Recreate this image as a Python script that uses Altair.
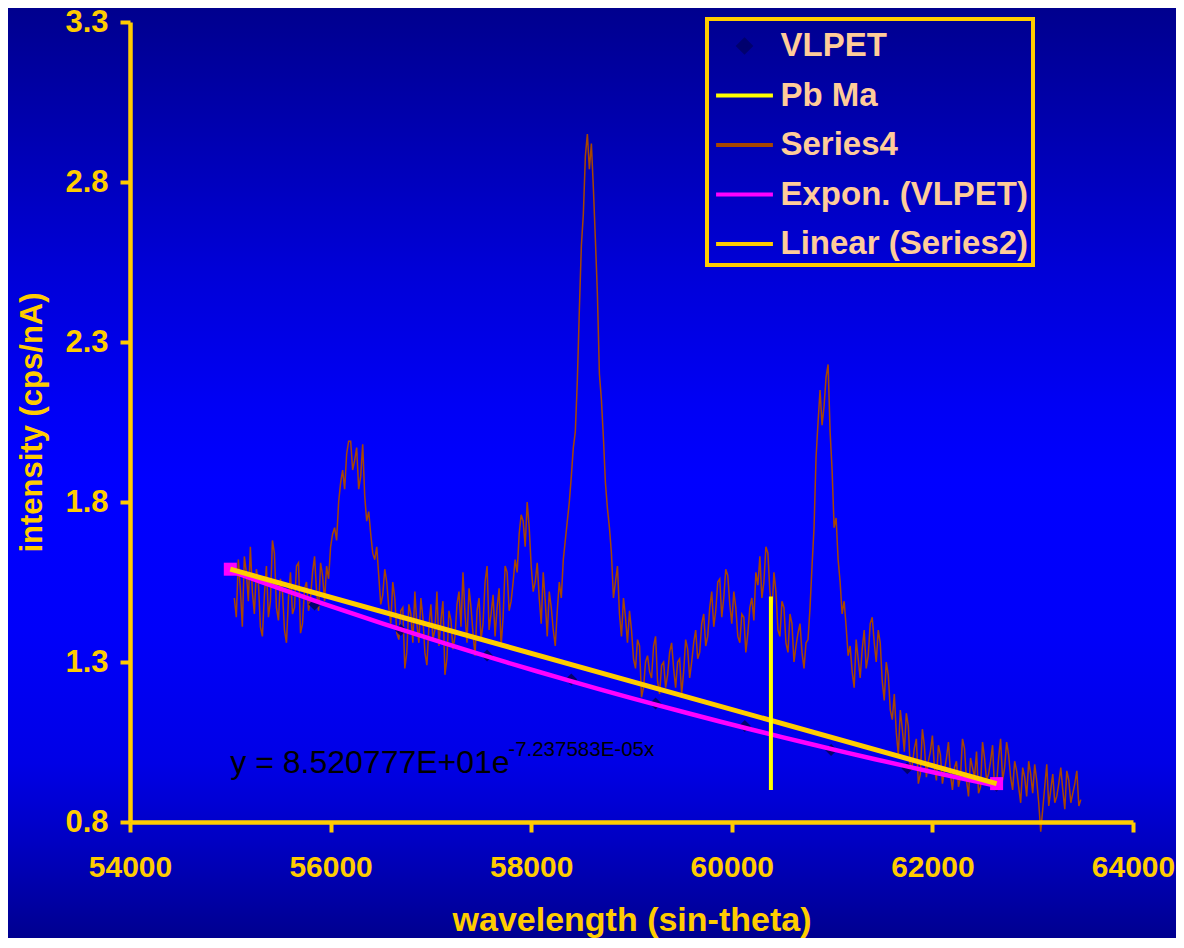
import altair as alt
import pandas as pd

# ---------------- data ----------------
series_names = ["VLPET", "Pb Ma", "Series4", "Expon. (VLPET)", "Linear (Series2)"]
series_colors = ["#00006E", "#FFFF00", "#A84600", "#FF00FF", "#FFCC00"]

# Series4 : measured spectrum, sampled every 20 units from 55040 to 63480.
# values at 55040, 55080, ... (every 40)
s4_even = [
    # 55040 - 55960
    1.50, 1.62, 1.41, 1.58, 1.66, 1.45, 1.55, 1.38, 1.60, 1.49, 1.64, 1.43,
    1.52, 1.36, 1.58, 1.47, 1.61, 1.42, 1.55, 1.50, 1.63, 1.46, 1.57, 1.60,
    # 56000 - 56560
    1.66, 1.72, 1.80, 1.90, 1.95, 1.99, 1.93, 1.84, 1.98, 1.74, 1.70, 1.62,
    1.57, 1.51, 1.55,
    # 56600 - 57800
    1.42, 1.50, 1.37, 1.47, 1.33, 1.45, 1.52, 1.36, 1.44, 1.29, 1.48, 1.40,
    1.35, 1.49, 1.31, 1.43, 1.38, 1.52, 1.58, 1.36, 1.47, 1.32, 1.50, 1.42,
    1.60, 1.45, 1.38, 1.53, 1.44, 1.58, 1.49,
    # 57840 - 58360
    1.62, 1.70, 1.74, 1.80, 1.60, 1.55, 1.50, 1.58, 1.38, 1.47, 1.35, 1.55,
    1.62, 1.74,
    # 58400 - 58800
    1.88, 2.02, 2.40, 2.70, 2.95, 2.92, 2.62, 2.20, 2.00, 1.78, 1.64,
    # 58840 - 59560
    1.55, 1.45, 1.50, 1.36, 1.40, 1.28, 1.35, 1.22, 1.32, 1.25, 1.38, 1.20,
    1.30, 1.26, 1.36, 1.22, 1.31, 1.27, 1.34,
    # 59600 - 60600
    1.30, 1.40, 1.33, 1.45, 1.38, 1.52, 1.46, 1.56, 1.50, 1.57, 1.42, 1.47,
    1.36, 1.44, 1.39, 1.50, 1.58, 1.63, 1.55, 1.64, 1.45, 1.52, 1.38, 1.47,
    1.33, 1.42,
    # 60640 - 61600
    1.35, 1.42, 1.28, 1.37, 1.60, 1.94, 2.15, 2.10, 2.23, 1.90, 1.75, 1.55,
    1.49, 1.32, 1.27, 1.37, 1.25, 1.40, 1.32, 1.44, 1.30, 1.36, 1.18, 1.26,
    1.12,
    # 61640 - 63480
    1.08, 1.15, 1.02, 1.10, 0.98, 1.06, 0.95, 1.04, 0.99, 1.07, 0.93, 1.01,
    0.96, 1.05, 0.90, 0.99, 0.94, 1.03, 0.88, 0.97, 1.02, 0.91, 1.00, 0.95,
    1.04, 0.92, 1.06, 0.97, 1.01, 0.90, 0.96, 0.86, 0.94, 0.99, 0.89, 0.93,
    0.77, 0.91, 0.85, 0.95, 0.88, 0.97, 0.84, 0.93, 0.89, 0.96, 0.87,
]
# values at 55060, 55100, ... (the samples in between)
s4_odd = [
    1.44, 1.53, 1.63, 1.49, 1.52, 1.59, 1.41, 1.51, 1.44, 1.68, 1.47, 1.56,
    1.40, 1.50, 1.45, 1.60, 1.39, 1.53, 1.46, 1.58, 1.52, 1.61, 1.49, 1.56,
    1.70, 1.68, 1.86, 1.84, 1.99, 1.90, 1.97, 1.88, 1.82, 1.77, 1.64, 1.66,
    1.48, 1.59, 1.47,
    1.55, 1.39, 1.46, 1.28, 1.48, 1.36, 1.42, 1.50, 1.33, 1.41, 1.37, 1.52,
    1.43, 1.26, 1.46, 1.34, 1.48, 1.41, 1.45, 1.53, 1.39, 1.46, 1.37, 1.55,
    1.40, 1.51, 1.47, 1.35, 1.60, 1.46, 1.55,
    1.58, 1.76, 1.66, 1.72, 1.52, 1.61, 1.42, 1.49, 1.52, 1.40, 1.46, 1.50,
    1.68, 1.80,
    1.97, 2.18, 2.60, 2.88, 2.84, 2.78, 2.45, 2.12, 1.86, 1.72, 1.50,
    1.60, 1.38, 1.44, 1.46, 1.31, 1.37, 1.19, 1.30, 1.27, 1.35, 1.24, 1.29,
    1.22, 1.33, 1.28, 1.30, 1.20, 1.37, 1.25,
    1.36, 1.31, 1.42, 1.35, 1.47, 1.41, 1.55, 1.44, 1.59, 1.48, 1.52, 1.38,
    1.45, 1.33, 1.47, 1.43, 1.54, 1.50, 1.66, 1.52, 1.58, 1.40, 1.49, 1.36,
    1.45, 1.30,
    1.39, 1.33, 1.36, 1.47, 1.72, 2.05, 2.04, 2.19, 2.02, 1.72, 1.62, 1.45,
    1.41, 1.35, 1.22, 1.31, 1.34, 1.28, 1.42, 1.36, 1.40, 1.24, 1.30, 1.15,
    1.20,
    1.01, 1.09, 1.14, 0.96, 1.03, 0.92, 1.09, 0.94, 1.02, 0.97, 1.04, 0.92,
    1.00, 0.95, 0.97, 0.91, 1.06, 0.93, 1.00, 0.94, 0.89, 1.05, 0.93, 0.99,
    0.90, 1.00, 0.93, 1.05, 0.94, 0.99, 0.91, 0.97, 0.88, 0.95, 0.98, 0.86,
    0.84, 0.98, 0.90, 0.86, 0.92, 0.90, 0.96, 0.86, 0.92, 0.85,
]
assert len(s4_odd) == len(s4_even) - 1
s4_intensity = []
for i, v in enumerate(s4_even):
    s4_intensity.append(v)
    if i < len(s4_odd):
        s4_intensity.append(s4_odd[i])
s4_wavelength = list(range(55040, 63481, 20))
assert len(s4_wavelength) == len(s4_intensity)

# VLPET : background points used for the exponential fit
vlpet_wavelength = [55000, 55840, 56700, 57560, 58400, 59240, 60130, 60990, 61750, 62640]
vlpet_intensity = [1.59, 1.48, 1.40, 1.32, 1.245, 1.17, 1.10, 1.025, 0.968, 0.913]

# Series2 : the two end points (magenta squares) with their linear trend
s2_wavelength = [55000, 62640]
s2_intensity = [1.59, 0.92]

# Pb Ma marker line
pb_wavelength = [60390, 60390]
pb_intensity = [0.90, 1.505]

# trend-line equation label
eq_main = ["y = 8.520777E+01e"]
eq_sup = ["-7.237583E-05x"]
eq_wavelength = [55000]
eq_intensity = [0.953]

x_ticks = [54000, 56000, 58000, 60000, 62000, 64000]
y_ticks = [0.8, 1.3, 1.8, 2.3, 2.8, 3.3]

# ---------------- tables ----------------
s4_df = pd.DataFrame({"wavelength": s4_wavelength, "intensity": s4_intensity})
vl_df = pd.DataFrame({"wavelength": vlpet_wavelength, "intensity": vlpet_intensity})
s2_df = pd.DataFrame({"wavelength": s2_wavelength, "intensity": s2_intensity})
pb_df = pd.DataFrame({"wavelength": pb_wavelength, "intensity": pb_intensity})
eq_df = pd.DataFrame({"wavelength": eq_wavelength, "intensity": eq_intensity,
                      "main": eq_main, "sup": eq_sup})

GOLD = "#FFCC00"
FONT = "Liberation Sans"
PLOT_W, PLOT_H = 1003, 800

x_enc = alt.X(
    "wavelength:Q",
    scale=alt.Scale(domain=[54000, 64000], nice=False, zero=False),
    axis=alt.Axis(
        values=x_ticks, format="d", title="wavelength (sin-theta)", grid=False,
        zindex=1,
        domainColor=GOLD, domainWidth=4.5, tickColor=GOLD, tickWidth=4, tickSize=10,
        labelColor=GOLD, labelFont=FONT, labelFontWeight="bold", labelFontSize=30,
        labelPadding=20, labelFlush=False, labelOverlap=False,
        titleColor=GOLD, titleFont=FONT, titleFontWeight="bold", titleFontSize=34,
        titlePadding=21,
    ),
)
y_enc = alt.Y(
    "intensity:Q",
    scale=alt.Scale(domain=[0.8, 3.3], nice=False, zero=False),
    axis=alt.Axis(
        values=y_ticks, format=".1f", title="intensity (cps/nA)", grid=False,
        zindex=1,
        domainColor=GOLD, domainWidth=4.5, tickColor=GOLD, tickWidth=4, tickSize=10,
        labelColor=GOLD, labelFont=FONT, labelFontWeight="bold", labelFontSize=31,
        labelPadding=12, labelFlush=False, labelOverlap=False,
        titleColor=GOLD, titleFont=FONT, titleFontWeight="bold", titleFontSize=31,
        titlePadding=16,
    ),
)

SYM = 1722  # symbol size (radius ~20.75 px)
diamond_path = "M0,-0.29L0.29,0L0,0.29L-0.29,0Z"
line_path = "M-1.37,0L1.37,0"

legend = alt.Legend(orient="none", legendX=577, legendY=-3, title=None)
color_scale = alt.Scale(domain=series_names, range=series_colors)
shape_scale = alt.Scale(domain=series_names,
                        range=[diamond_path, line_path, line_path, line_path, line_path])


def color_of():
    return alt.Color("series:N", scale=color_scale, legend=legend)


def tag(name):
    return "'" + name + "'"


# background gradient
gradient = alt.LinearGradient(
    gradient="linear", x1=0, y1=0, x2=0, y2=1,
    stops=[
        alt.GradientStop(color="#00008E", offset=0.0),
        alt.GradientStop(color="#0000A8", offset=0.10),
        alt.GradientStop(color="#0000D8", offset=0.28),
        alt.GradientStop(color="#0000F5", offset=0.42),
        alt.GradientStop(color="#0000FF", offset=0.50),
        alt.GradientStop(color="#0000FA", offset=0.66),
        alt.GradientStop(color="#0000E6", offset=0.80),
        alt.GradientStop(color="#0000C4", offset=0.88),
        alt.GradientStop(color="#000088", offset=1.0),
    ],
)
bg = alt.Chart(alt.Data(values=[{"k": 0}])).mark_rect(fill=gradient).encode(
    x=alt.value(-122), x2=alt.value(1060), y=alt.value(-14), y2=alt.value(930)
)

s4 = alt.Chart(s4_df).transform_calculate(series=tag("Series4")).mark_line(
    strokeWidth=1.5
).encode(x=x_enc, y=y_enc, color=color_of())

vl = alt.Chart(vl_df).transform_calculate(series=tag("VLPET")).mark_point(
    filled=True, size=SYM, opacity=1
).encode(
    x=x_enc, y=y_enc, color=color_of(),
    shape=alt.Shape("series:N", scale=shape_scale, legend=legend),
)

expon = alt.Chart(vl_df).transform_regression(
    "wavelength", "intensity", method="exp"
).transform_calculate(series=tag("Expon. (VLPET)")).mark_line(strokeWidth=4.5).encode(
    x=x_enc, y=y_enc, color=color_of()
)

s2sq = alt.Chart(s2_df).mark_square(size=169, color="#FF00FF", opacity=1).encode(
    x=x_enc, y=y_enc
)

linear = alt.Chart(s2_df).transform_regression(
    "wavelength", "intensity", method="linear"
).transform_calculate(series=tag("Linear (Series2)")).mark_line(strokeWidth=5).encode(
    x=x_enc, y=y_enc, color=color_of()
)

pb = alt.Chart(pb_df).transform_calculate(series=tag("Pb Ma")).mark_line(
    strokeWidth=4
).encode(x=x_enc, y=y_enc, color=color_of())

eq1 = alt.Chart(eq_df).mark_text(
    align="left", baseline="alphabetic", font=FONT, fontSize=32, color="black"
).encode(x=x_enc, y=y_enc, text="main:N")

eq2 = alt.Chart(eq_df).mark_text(
    align="left", baseline="alphabetic", font=FONT, fontSize=20.5, color="black",
    dx=278, dy=-17,
).encode(x=x_enc, y=y_enc, text="sup:N")

chart = alt.layer(bg, s4, vl, expon, s2sq, linear, pb, eq1, eq2).properties(
    width=PLOT_W, height=PLOT_H,
    autosize=alt.AutoSizeParams(type="none"),
    padding={"left": 122, "top": 14, "right": 43, "bottom": 116},
    background="#0000C0",
).configure_view(strokeWidth=0).configure_legend(
    strokeColor=GOLD, strokeWidth=4, padding=4, fillColor="transparent",
    labelFont=FONT, labelFontWeight="bold", labelFontSize=33, labelColor="#FFCC99",
    symbolSize=SYM, symbolStrokeWidth=4, rowPadding=9.5, labelOffset=13,
    symbolOffset=10.5, labelLimit=400,
)

chart.save("out.html", embed_options={"renderer": "svg", "actions": False})
